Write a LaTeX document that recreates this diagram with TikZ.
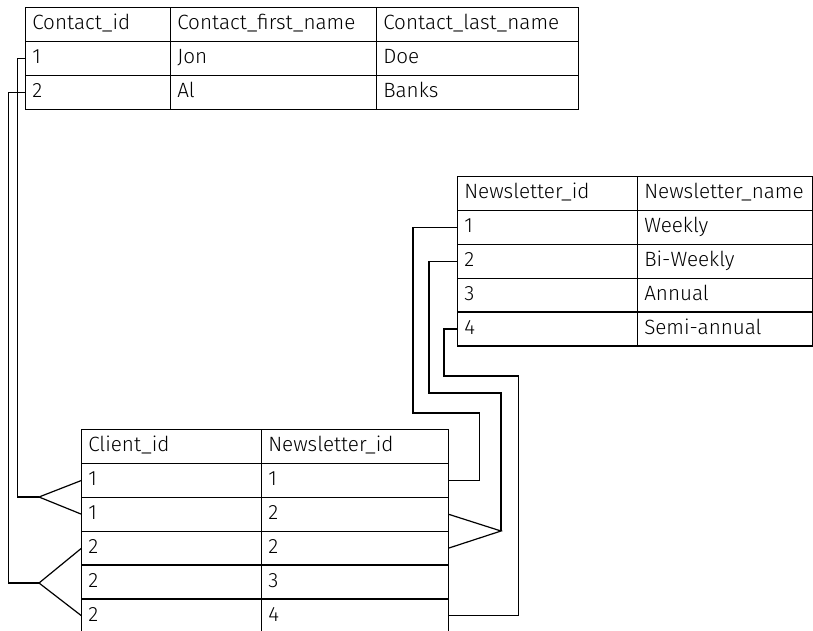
\documentclass[tikz,border=0pt]{standalone}
\usepackage{fontspec}
\setmainfont{Fira Sans Light}
\usetikzlibrary{matrix}
\begin{document}
\begin{tikzpicture}[x=0.75pt,y=-0.75pt,line width=0.9pt,
    cell/.style={draw, outer sep=0pt, inner xsep=5pt, inner ysep=0pt,
        minimum height=25.4pt, text height=11pt, text depth=3pt, align=left,
        font=\fontsize{15.5}{17}\selectfont},
    dbtable/.style={matrix of nodes, nodes={cell}, anchor=north west,
        inner sep=0pt, outer sep=0pt,
        column sep=-\pgflinewidth, row sep=-\pgflinewidth}
  ]
  \useasboundingbox (0,0) rectangle (813,631);
  \clip (0,0) rectangle (813,631);

  \matrix (contact) [dbtable,
    column 1/.style={nodes={text width=98.75pt}},
    column 2/.style={nodes={text width=144.5pt}},
    column 3/.style={nodes={text width=141.5pt}}
  ] at (25,7)
  {
    Contact\_id & Contact\_first\_name & Contact\_last\_name \\
    1 & Jon & Doe \\
    2 & Al & Banks \\
  };

  \matrix (news) [dbtable,
    column 1/.style={nodes={text width=125pt}},
    column 2/.style={nodes={text width=121.25pt}}
  ] at (457,176)
  {
    Newsletter\_id & Newsletter\_name \\
    1 & Weekly \\
    2 & Bi-Weekly \\
    3 & Annual \\
    4 & Semi-annual \\
  };

  \matrix (client) [dbtable,
    column 1/.style={nodes={text width=125pt}},
    column 2/.style={nodes={text width=130.25pt}}
  ] at (81,429)
  {
    Client\_id & Newsletter\_id \\
    1 & 1 \\
    1 & 2 \\
    2 & 2 \\
    2 & 3 \\
    2 & 4 \\
  };

  \coordinate (footA) at (39,497);
  \coordinate (footB) at (39,583);
  \coordinate (footC) at (501,531);

  \draw (contact-2-1.west) -- ++(-8,0) |- (footA);
  \draw (client-2-1.west) -- (footA) -- (client-3-1.west);
  \draw (contact-3-1.west) -- ++(-17,0) |- (footB);
  \draw (client-4-1.west) -- (footB) -- (client-6-1.west);

  \draw (client-2-2.east) -- ++(31,0) |- (413,413) |- (news-2-1.west);
  \draw (client-3-2.east) -- (footC) -- (client-4-2.east);
  \draw (footC) |- (429,393) |- (news-3-1.west);
  \draw (client-6-2.east) -- ++(70,0) |- (444,376) |- (news-5-1.west);

\end{tikzpicture}
\end{document}
